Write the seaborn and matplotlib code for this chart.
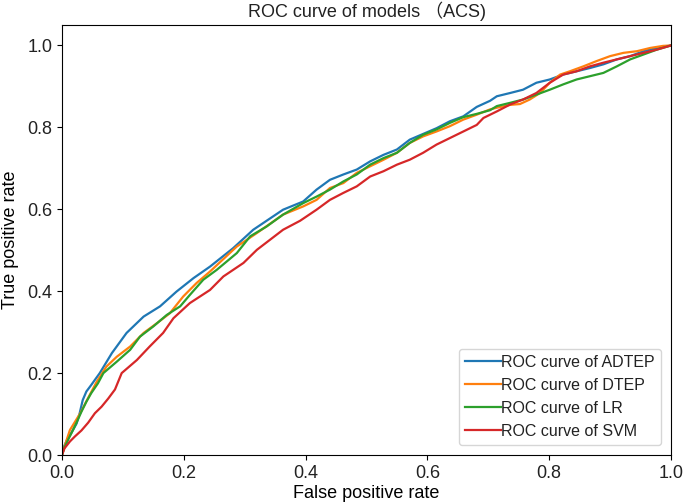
import matplotlib
matplotlib.use("Agg")
import matplotlib.pyplot as plt
import seaborn as sns
import pandas as pd

# ---- data ----
adtep_fpr = [0, 0.002, 0.007, 0.015, 0.024, 0.029, 0.034, 0.040, 0.048, 0.062, 0.082, 0.106, 0.134, 0.161,
             0.188, 0.216, 0.243, 0.281, 0.314, 0.363, 0.396, 0.418, 0.440, 0.462, 0.484, 0.506, 0.528, 0.550,
             0.571, 0.593, 0.615, 0.637, 0.659, 0.681, 0.703, 0.714, 0.736, 0.757, 0.779, 0.801, 0.823, 0.845,
             0.867, 0.889, 0.911, 0.933, 0.955, 0.977, 1.0]
adtep_tpr = [0, 0.016, 0.033, 0.053, 0.077, 0.102, 0.134, 0.155, 0.171, 0.200, 0.249, 0.298, 0.338, 0.363,
             0.399, 0.432, 0.460, 0.505, 0.550, 0.599, 0.619, 0.648, 0.672, 0.685, 0.697, 0.717, 0.733, 0.746,
             0.770, 0.784, 0.798, 0.815, 0.827, 0.850, 0.865, 0.876, 0.884, 0.892, 0.909, 0.917, 0.929, 0.937,
             0.945, 0.954, 0.966, 0.974, 0.986, 0.994, 1.0]

dtep_fpr = [0, 0.005, 0.013, 0.030, 0.041, 0.057, 0.073, 0.090, 0.112, 0.134, 0.156, 0.177, 0.199, 0.221,
            0.243, 0.287, 0.320, 0.363, 0.396, 0.418, 0.440, 0.462, 0.484, 0.506, 0.528, 0.550, 0.571, 0.593,
            0.615, 0.637, 0.659, 0.681, 0.703, 0.714, 0.736, 0.752, 0.768, 0.785, 0.801, 0.818, 0.834, 0.856,
            0.878, 0.900, 0.922, 0.944, 0.966, 0.987, 1.0]
dtep_tpr = [0, 0.025, 0.061, 0.102, 0.134, 0.179, 0.216, 0.240, 0.265, 0.298, 0.322, 0.346, 0.387, 0.420,
            0.448, 0.509, 0.542, 0.587, 0.607, 0.623, 0.652, 0.664, 0.689, 0.705, 0.721, 0.738, 0.762, 0.778,
            0.790, 0.803, 0.819, 0.831, 0.844, 0.848, 0.855, 0.857, 0.868, 0.884, 0.909, 0.929, 0.937, 0.949,
            0.962, 0.974, 0.982, 0.986, 0.994, 0.999, 1.0]

lr_fpr = [0, 0.004, 0.010, 0.018, 0.026, 0.032, 0.040, 0.048, 0.059, 0.068, 0.090, 0.112, 0.128, 0.150,
          0.172, 0.194, 0.210, 0.232, 0.254, 0.287, 0.309, 0.336, 0.363, 0.396, 0.418, 0.440, 0.462, 0.484,
          0.506, 0.528, 0.550, 0.571, 0.593, 0.615, 0.637, 0.659, 0.681, 0.703, 0.714, 0.736, 0.757, 0.779,
          0.801, 0.823, 0.845, 0.867, 0.889, 0.911, 0.933, 0.955, 0.977, 1.0]
lr_tpr = [0, 0.018, 0.037, 0.061, 0.086, 0.106, 0.130, 0.151, 0.175, 0.200, 0.228, 0.257, 0.289, 0.314,
          0.342, 0.363, 0.391, 0.428, 0.452, 0.493, 0.534, 0.558, 0.587, 0.615, 0.631, 0.648, 0.668, 0.685,
          0.709, 0.725, 0.738, 0.762, 0.782, 0.795, 0.811, 0.825, 0.833, 0.842, 0.852, 0.860, 0.868, 0.880,
          0.892, 0.905, 0.917, 0.925, 0.933, 0.949, 0.966, 0.978, 0.990, 1.0]

svm_fpr = [0, 0.004, 0.013, 0.021, 0.032, 0.043, 0.054, 0.065, 0.076, 0.087, 0.098, 0.123, 0.144, 0.166,
           0.183, 0.210, 0.243, 0.265, 0.298, 0.320, 0.363, 0.391, 0.418, 0.440, 0.462, 0.484, 0.506, 0.528,
           0.550, 0.571, 0.593, 0.615, 0.637, 0.659, 0.681, 0.692, 0.714, 0.736, 0.757, 0.779, 0.801, 0.823,
           0.845, 0.867, 0.889, 0.911, 0.933, 0.955, 0.977, 1.0]
svm_tpr = [0, 0.016, 0.033, 0.045, 0.060, 0.079, 0.102, 0.118, 0.138, 0.160, 0.200, 0.232, 0.265, 0.298,
           0.334, 0.371, 0.403, 0.436, 0.469, 0.501, 0.550, 0.572, 0.599, 0.623, 0.640, 0.656, 0.680, 0.693,
           0.709, 0.721, 0.738, 0.758, 0.774, 0.790, 0.806, 0.823, 0.839, 0.856, 0.868, 0.884, 0.909, 0.929,
           0.937, 0.949, 0.958, 0.966, 0.974, 0.982, 0.990, 1.0]

labels = ["ROC curve of ADTEP", "ROC curve of DTEP", "ROC curve of LR", "ROC curve of SVM"]
series = [(adtep_fpr, adtep_tpr), (dtep_fpr, dtep_tpr), (lr_fpr, lr_tpr), (svm_fpr, svm_tpr)]
colors = sns.color_palette("tab10", 4)

plt.rcParams['font.family'] = ['Liberation Sans', 'Noto Sans CJK SC', 'DejaVu Sans']
plt.rcParams['text.color'] = '#222222'
plt.rcParams['xtick.labelcolor'] = '#222222'
plt.rcParams['ytick.labelcolor'] = '#222222'

fig = plt.figure(figsize=(6.85, 5.04), dpi=100)
ax = fig.add_axes([62 / 685, 49 / 504, 609 / 685, 430 / 504])

for (fx, ty), lab, col in zip(series, labels, colors):
    df = pd.DataFrame({"fpr": fx, "tpr": ty})
    sns.lineplot(data=df, x="fpr", y="tpr", sort=False, estimator=None,
                 color=col, linewidth=1.6, label=lab, ax=ax)

ax.set_xlim(0, 1.0)
ax.set_ylim(0, 1.05)
ax.set_xticks([0.0, 0.2, 0.4, 0.6, 0.8, 1.0])
ax.set_yticks([0.0, 0.2, 0.4, 0.6, 0.8, 1.0])
ax.tick_params(labelsize=13)
ax.set_xlabel("False positive rate", fontsize=13, labelpad=2)
ax.set_ylabel("True positive rate", fontsize=13, labelpad=6)
ax.set_title("ROC curve of models （ACS)", fontsize=13, pad=6)
ax.legend(loc="lower right", fontsize=11.5, handlelength=2.2, handletextpad=0.05,
          borderaxespad=0.6)

fig.savefig("out.png", dpi=100)
